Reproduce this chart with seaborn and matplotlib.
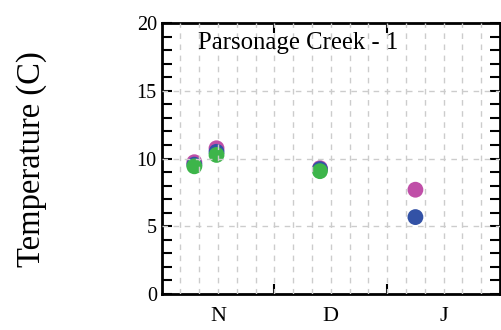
import matplotlib
matplotlib.use("Agg")
import matplotlib.pyplot as plt
import seaborn as sns
import pandas as pd
import numpy as np
from matplotlib.ticker import MultipleLocator, FixedLocator

sns.set_theme(style="white")
plt.rcParams['font.family'] = ['Liberation Serif', 'DejaVu Serif']
plt.rcParams['text.color'] = 'black'
plt.rcParams['axes.labelcolor'] = 'black'
plt.rcParams['xtick.color'] = 'black'
plt.rcParams['ytick.color'] = 'black'

# days since Nov 1 (each month drawn as 30 days)
day = [8.7, 14.6, 42.1, 67.5,
       8.7, 14.6, 42.1, 67.5,
       8.7, 14.6, 42.1]
temp = [9.73, 10.76, 9.29, 7.7,
        9.55, 10.5, 9.22, 5.68,
        9.43, 10.27, 9.07]
series = ["a", "a", "a", "a",
          "b", "b", "b", "b",
          "c", "c", "c"]
palette = {"a": "#c04fa8", "b": "#3352a6", "c": "#3db54a"}
month_labels = ["N", "D", "J"]
title = "Parsonage Creek - 1"

df = pd.DataFrame({"day": day, "temp": temp, "series": series})

fig = plt.figure(figsize=(5.02, 3.30), dpi=100)
ax = fig.add_axes([0.322, 0.109, 0.674, 0.821])

# grid
for xv in np.arange(5, 90, 5):
    ax.axvline(xv, color="#cccccc", lw=1.0, ls=(0, (4, 4)), zorder=3)
for yv in [5, 10, 15]:
    ax.axhline(yv, color="#cccccc", lw=1.0, ls=(0, (4, 4)), zorder=3)

sns.scatterplot(data=df, x="day", y="temp", hue="series", palette=palette,
                s=130, edgecolor="none", legend=False, ax=ax, zorder=2)

ax.set_xlim(0, 90)
ax.set_ylim(0, 20)
ax.xaxis.set_major_locator(FixedLocator([15, 45, 75]))
ax.set_xticklabels(month_labels)
ax.xaxis.set_minor_locator(FixedLocator([30, 60]))
ax.tick_params(axis="x", which="major", length=0, labelsize=16, pad=9,
               labelcolor="black")
ax.tick_params(axis="x", which="minor", direction="in", length=7, width=1.5,
               top=True, bottom=True)
ax.yaxis.set_major_locator(MultipleLocator(5))
ax.yaxis.set_minor_locator(MultipleLocator(1))
ax.tick_params(axis="y", which="both", direction="in", length=7, width=1.5,
               left=True, right=True, labelsize=14.5, pad=3.5, labelcolor="black")
ax.set_xlabel("")
ax.set_ylabel("Temperature (C)", fontsize=23.5, color="black")
ax.yaxis.set_label_coords(-0.339, 0.497)
for sp in ax.spines.values():
    sp.set_linewidth(2)
    sp.set_color("black")
ax.text(0.107, 0.925, title, transform=ax.transAxes, fontsize=17.8,
        va="center", ha="left", color="black")

fig.savefig("out.png", dpi=100)
